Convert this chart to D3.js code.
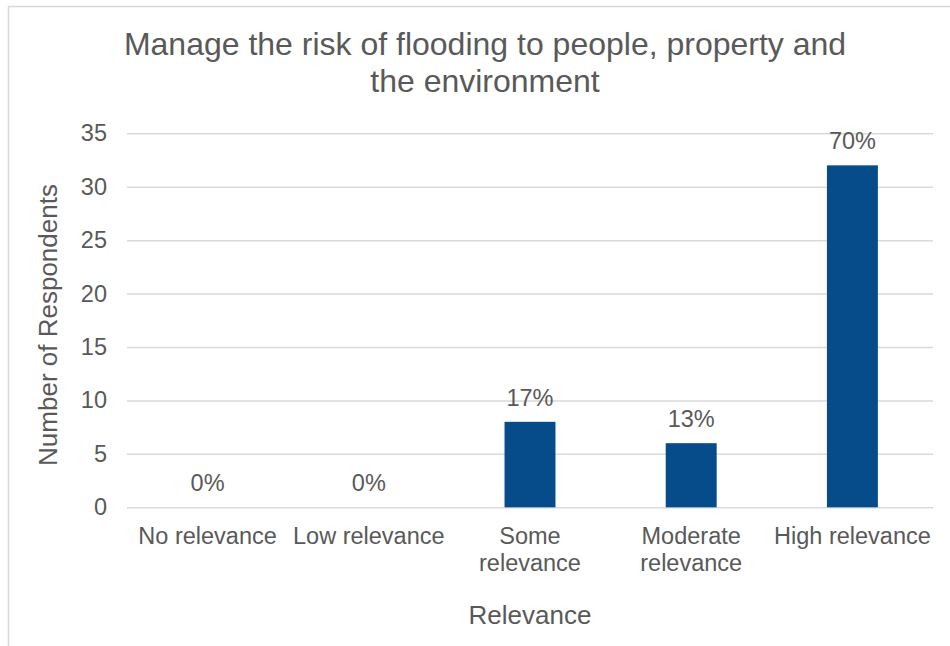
<!DOCTYPE html>
<html>
<head>
<meta charset="utf-8">
<script src="https://cdn.jsdelivr.net/npm/d3@7"></script>
<style>
  html, body { margin: 0; padding: 0; background: #fff; }
  svg { display: block; font-family: "Liberation Sans", Arial, sans-serif; }
</style>
</head>
<body>
<svg id="chart" width="950" height="646"></svg>
<script>
// Survey responses: number of respondents per relevance rating
const categories = [["No relevance"], ["Low relevance"], ["Some", "relevance"], ["Moderate", "relevance"], ["High relevance"]];
const respondents = [0, 0, 8, 6, 32];
const yTicks = [0, 5, 10, 15, 20, 25, 30, 35];
const titleLines = ["Manage the risk of flooding to people, property and", "the environment"];
const yTitle = "Number of Respondents";
const xTitle = "Relevance";

const textColor = "#595959";
const barColor = "#064b8a";
const gridColor = "#d9d9d9";

const svg = d3.select("#chart");
const margin = { left: 127, right: 17, top: 133.3, bottom: 138.7 };
const W = 950, H = 646;

// Chart frame
svg.append("rect")
  .attr("x", 8.5).attr("y", 6.5)
  .attr("width", 1000).attr("height", 700)
  .attr("fill", "none").attr("stroke", gridColor).attr("stroke-width", 1.5);

const keys = categories.map(c => c.join(" "));
const x = d3.scaleBand().domain(keys).range([margin.left, W - margin.right]).padding(0);
const y = d3.scaleLinear().domain([0, 35]).range([H - margin.bottom, margin.top]);

// Title
svg.append("text")
  .attr("x", 485).attr("y", 55)
  .attr("text-anchor", "middle")
  .attr("fill", textColor).style("font-size", "32px")
  .selectAll("tspan").data(titleLines).join("tspan")
  .attr("x", 485).attr("dy", (d, i) => i === 0 ? 0 : 37)
  .text(d => d);

// Gridlines and y tick labels
const yAxis = d3.axisLeft(y).tickValues(yTicks).tickSize(-(W - margin.right - margin.left)).tickPadding(20);
const gy = svg.append("g").attr("transform", `translate(${margin.left},0)`).call(yAxis);
gy.select(".domain").remove();
gy.selectAll(".tick line").attr("stroke", gridColor).attr("stroke-width", 1.5);
gy.selectAll(".tick text")
  .attr("fill", textColor).style("font-size", "23.5px")
  .attr("font-family", "Liberation Sans, Arial, sans-serif");

// Bars
const barW = x.bandwidth() * 0.316;
svg.append("g").selectAll("rect").data(respondents).join("rect")
  .attr("x", (d, i) => x(keys[i]) + (x.bandwidth() - barW) / 2)
  .attr("width", barW)
  .attr("y", d => y(d))
  .attr("height", d => y(0) - y(d))
  .attr("fill", barColor);

// Percentage labels above bars
const total = d3.sum(respondents);
const pct = d3.format(".0%");
svg.append("g").selectAll("text").data(respondents).join("text")
  .attr("x", (d, i) => x(keys[i]) + x.bandwidth() / 2)
  .attr("y", d => y(d) - 16)
  .attr("text-anchor", "middle")
  .attr("fill", textColor).style("font-size", "23.5px")
  .text(d => pct(d / total));

// Category labels
const xLab = svg.append("g").selectAll("text").data(categories).join("text")
  .attr("x", (d, i) => x(keys[i]) + x.bandwidth() / 2)
  .attr("y", 544)
  .attr("text-anchor", "middle")
  .attr("fill", textColor).style("font-size", "23.5px");
xLab.selectAll("tspan").data(d => d).join("tspan")
  .attr("x", function () { return d3.select(this.parentNode).attr("x"); })
  .attr("dy", (d, i) => i === 0 ? 0 : 27)
  .text(d => d);

// Axis titles
svg.append("text")
  .attr("x", 530).attr("y", 624)
  .attr("text-anchor", "middle")
  .attr("fill", textColor).style("font-size", "26px")
  .text(xTitle);

svg.append("text")
  .attr("transform", "translate(57,325) rotate(-90)")
  .attr("text-anchor", "middle")
  .attr("fill", textColor).style("font-size", "26px")
  .text(yTitle);
</script>
</body>
</html>
